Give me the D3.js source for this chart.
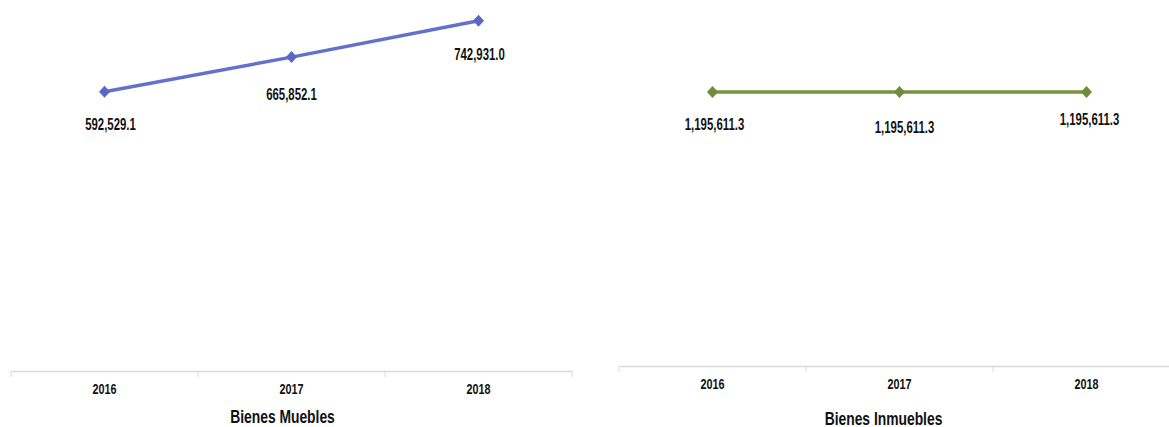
<!DOCTYPE html>
<html><head><meta charset="utf-8">
<script src="https://cdn.jsdelivr.net/npm/d3@7"></script>
<style>
html,body{margin:0;padding:0;background:#fff;}
svg text{font-family:"Liberation Sans Narrow","Arial Narrow","Liberation Sans",sans-serif;font-weight:bold;fill:#111;}
</style></head>
<body>
<svg id="c" width="1169" height="427"></svg>
<script>
const years = ["2016","2017","2018"];
const mueblesValues = [592529.1, 665852.1, 742931.0];
const inmueblesValues = [1195611.3, 1195611.3, 1195611.3];
const mueblesTitle = "Bienes Muebles";
const inmueblesTitle = "Bienes Inmuebles";

const svg = d3.select("#c");
const fmt = d3.format(",.1f");

function ctext(g, x, y, size, sx, str){
  return g.append("text").attr("transform",`translate(${x},${y}) scale(${sx},1)`)
    .attr("text-anchor","middle").attr("font-size",size).text(str);
}

function panel(cfg){
  const g = svg.append("g");
  const x = d3.scaleBand().domain(years).range([cfg.x0, cfg.x1]).paddingInner(0).paddingOuter(0);
  const y = d3.scaleLinear().domain([0, cfg.ymax]).range([cfg.base, cfg.top]);
  const ax = d3.axisBottom(x).tickSize(0).tickFormat(d=>d);
  const axG = g.append("g").attr("transform",`translate(0,${cfg.base})`).call(ax);
  axG.select(".domain").attr("stroke","#d9d9d9").attr("stroke-width",1.5);
  axG.selectAll(".tick text").attr("dy",null).attr("y",null)
    .attr("transform",`translate(0,${cfg.tickDy}) scale(0.72,1)`).attr("font-size",15);
  const bounds = years.map(d=>x(d)).concat([x(years[years.length-1])+x.bandwidth()]);
  g.selectAll("line.tk").data(bounds).enter().append("line")
    .attr("x1",d=>d).attr("x2",d=>d).attr("y1",cfg.base).attr("y2",cfg.base+6)
    .attr("stroke","#d9d9d9").attr("stroke-width",1);
  ctext(g, x(years[1])+x.bandwidth()/2+cfg.titleDx, cfg.titleY, 18, 0.77, cfg.title);
  const pts = years.map((d,i)=>({k:d,v:cfg.values[i]}));
  const line = d3.line().x(d=>x(d.k)+x.bandwidth()/2).y(d=>y(d.v));
  g.append("path").datum(pts).attr("d",line).attr("fill","none")
    .attr("stroke",cfg.color).attr("stroke-width",3.5);
  g.selectAll("path.mk").data(pts).enter().append("path")
    .attr("d","M0,-6L5.5,0L0,6L-5.5,0Z").attr("fill",cfg.mcolor)
    .attr("transform",d=>`translate(${x(d.k)+x.bandwidth()/2},${y(d.v)})`);
  pts.forEach((d,i)=>{
    ctext(g, x(d.k)+x.bandwidth()/2+cfg.labDx[i], y(d.v)+cfg.labDy[i], 17, 0.67, fmt(d.v));
  });
}

panel({x0:11,x1:572,base:371,top:8,ymax:770000,values:mueblesValues,
  color:"#6470cc",mcolor:"#5a68c4",title:mueblesTitle,titleY:423,titleDx:-9,tickDy:23,
  labDx:[6,0,1],labDy:[38,43,39]});
panel({x0:619,x1:1180,base:366,top:92,ymax:1195611.3,values:inmueblesValues,
  color:"#77933c",mcolor:"#6f8c3a",title:inmueblesTitle,titleY:425,titleDx:-16,tickDy:23,
  labDx:[2,5,3],labDy:[38,41,33]});
</script>
</body></html>
